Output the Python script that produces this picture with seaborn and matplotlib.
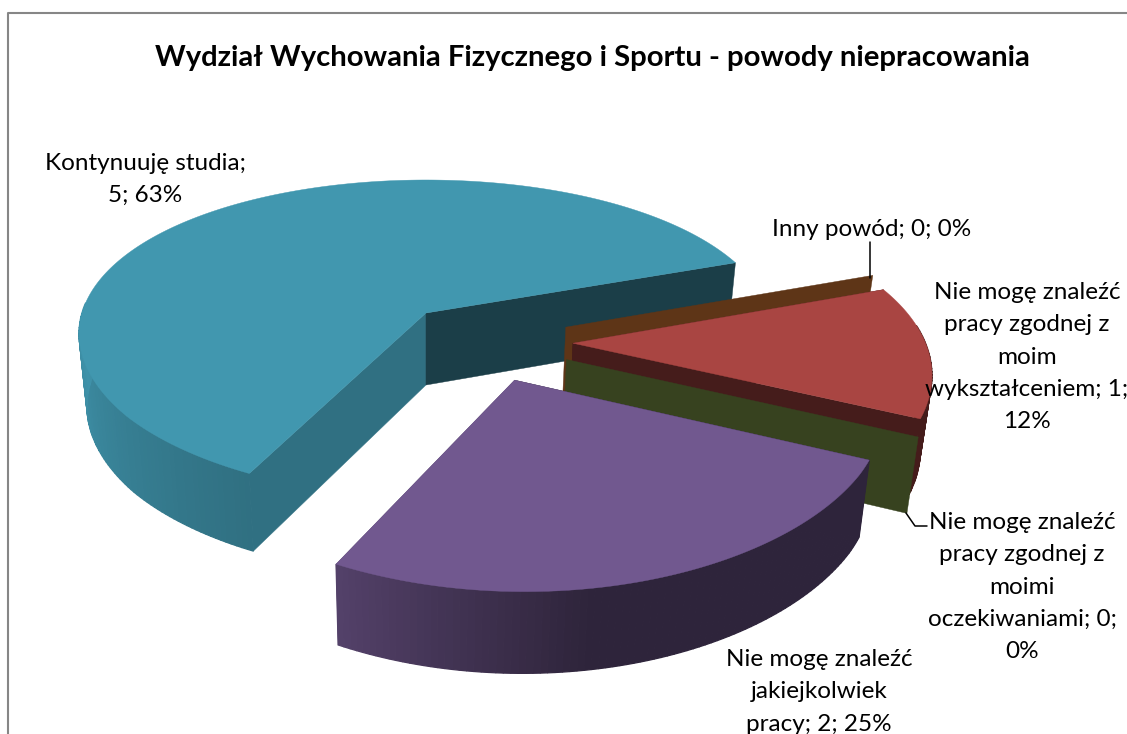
import numpy as np
import matplotlib
matplotlib.use("Agg")
import matplotlib.pyplot as plt
import seaborn as sns

# values, clockwise from the start angle
categories = ["Kontynuuję studia", "Inny powód", "Nie mogę znaleźć pracy zgodnej z moim wykształceniem",
              "Nie mogę znaleźć pracy zgodnej z moimi oczekiwaniami", "Nie mogę znaleźć jakiejkolwiek pracy"]
values = [5, 0, 1, 0, 2]
labels = ["Kontynuuję studia;\n5; 63%",
          "Inny powód; 0; 0%",
          "Nie mogę znaleźć\npracy zgodnej z\nmoim\nwykształceniem; 1;\n12%",
          "Nie mogę znaleźć\npracy zgodnej z\nmoimi\noczekiwaniami; 0;\n0%",
          "Nie mogę znaleźć\njakiejkolwiek\npracy; 2; 25%"]
colors = ["#4197AF", "#E58237", "#A94542", "#87A14C", "#71588F"]
title = "Wydział Wychowania Fizycznego i Sportu - powody niepracowania"

sns.set_theme(style="white")
plt.rcParams['font.family'] = ['Lato', 'DejaVu Sans']

# fake 3D camera, disc coordinates go to pixels
ORIGIN_X, ORIGIN_Y = 426, 313
SCALE_X, SCALE_Y = 344, 155.5
PERSP_X, PERSP_Y = 0.13, 0.169
CENTER_U, CENTER_V = 0.162, 0.177
EXPLODE = [0.24, 0.255, 0.255, 0.255, 0.24]
START = 245


def project(u, v, bottom=False):
    x = ORIGIN_X + SCALE_X * u / (1 - PERSP_X * v)
    y = ORIGIN_Y + SCALE_Y * v / (1 - PERSP_Y * v)
    # the front edge comes out a bit flatter than a true projection
    x = x - 8 * np.maximum(v - 0.9, 0)
    y = y - 9 * np.maximum(v - 0.6, 0)
    if bottom:
        x = ORIGIN_X + (x - ORIGIN_X) * 0.977
        y = y + 72 + 0.035 * (y - ORIGIN_Y)
    return x, y


def rim_dir(t):
    # direction of the rim point, nudged near the front left like the original render
    t = np.asarray(t, dtype=float)
    d = (t % 360 - START)
    a = np.radians(t - 2.0 * np.exp(-(d / 40) ** 2))
    return np.cos(a), -np.sin(a)


def shade(color, angle):
    f = np.interp(angle % 360, [0, 90, 180, 245, 280, 360], [0.41, 0.41, 0.97, 0.74, 0.41, 0.41])
    return tuple(c * f for c in matplotlib.colors.to_rgb(color))


def wall(ax, pu, pv, qu, qv, color, lw=0.3):
    x1, y1 = project(pu, pv)
    x2, y2 = project(qu, qv)
    x3, y3 = project(qu, qv, bottom=True)
    x4, y4 = project(pu, pv, bottom=True)
    ax.fill([x1, x2, x3, x4], [y1, y2, y3, y4], facecolor=color, edgecolor=color, lw=lw)


fig = plt.figure(figsize=(11.27, 7.34), dpi=100)
ax = fig.add_axes([0, 0, 1, 1])
ax.set_xlim(0, 1127)
ax.set_ylim(734, 0)
ax.axis("off")

# chart frame, cut by the picture on the right and at the bottom
ax.plot([8, 8, 1127], [734, 13, 13], color="#868686", lw=1.5)

total = sum(values)
angle = START
for val, col, exp in zip(values, colors, EXPLODE):
    span = val / total * 360
    t1, t2 = angle, angle - span
    angle = t2
    mid = np.radians((t1 + t2) / 2)
    cu = CENTER_U + exp * np.cos(mid)
    cv = CENTER_V - exp * np.sin(mid)

    if val == 0:
        du, dv = rim_dir(t1)
        wall(ax, cu, cv, cu + du, cv + dv, shade(col, 0))
        continue

    ts = np.linspace(t1, t2, int(span) + 2)
    du, dv = rim_dir(ts)
    us = cu + du
    vs = cv + dv

    # inner walls, then rim, then top
    wall(ax, cu, cv, us[0], vs[0], shade(col, t1))
    wall(ax, cu, cv, us[-1], vs[-1], shade(col, t2))
    for i in range(len(ts) - 1):
        tm = (ts[i] + ts[i + 1]) / 2
        if tm % 360 >= 176 or tm % 360 <= 6:  # back of the rim stays hidden
            wall(ax, us[i], vs[i], us[i + 1], vs[i + 1], shade(col, tm), lw=0.9)
    xs, ys = project(us, vs)
    cx, cy = project(cu, cv)
    ax.fill(np.r_[cx, xs], np.r_[cy, ys], facecolor=col, edgecolor=col, lw=0.3)

# leader lines
ax.plot([869.5, 869.5], [242, 278], color="black", lw=1.1)
ax.plot([906, 915, 927], [513, 526, 526], color="black", lw=1.1)

# text
ax.text(592, 58, title, ha="center", va="center", fontsize=21.1, fontweight="bold", color="black")
label_pos = [(145.5, 179.5), (872, 230), (1027, 357), (1022, 587), (819, 692)]
for txt, (x, y) in zip(labels, label_pos):
    ax.text(x, y, txt, ha="center", va="center", multialignment="center",
            fontsize=17.5, color="black", linespacing=1.66)

fig.savefig("out.png", dpi=100)
